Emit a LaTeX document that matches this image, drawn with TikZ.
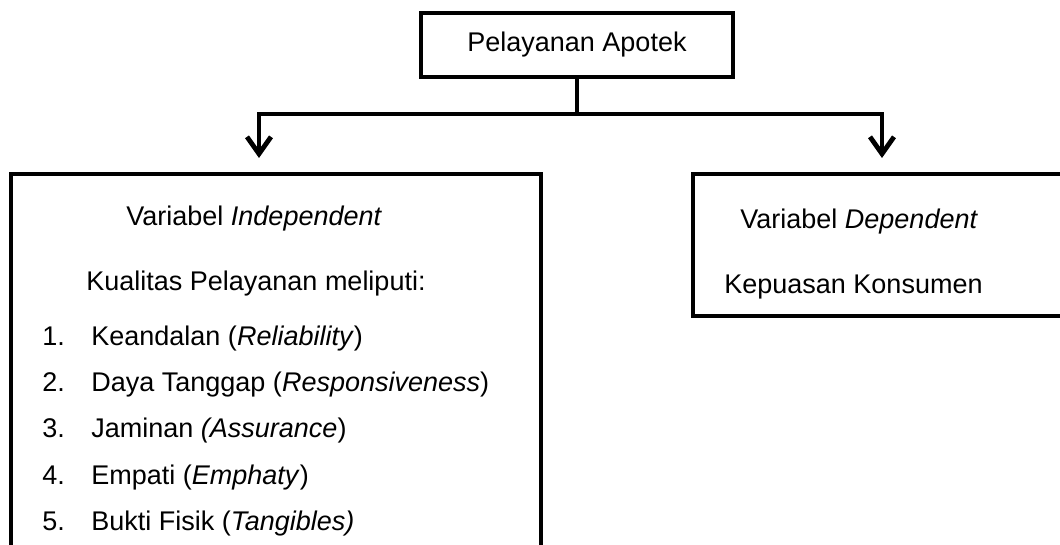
\documentclass[tikz,border=0pt]{standalone}
\usepackage{fontspec}
\setmainfont{Liberation Sans}
\usetikzlibrary{arrows.meta}
\begin{document}
\begin{tikzpicture}[x=0.5pt,y=-0.5pt,font=\fontsize{13.5}{16}\selectfont]
\tikzset{kotak/.style={draw, rectangle, line width=1.9pt, inner sep=0pt},
teks/.style={anchor=base west, inner sep=0pt},
panah/.style={line width=2pt, -{Straight Barb[length=8.5pt, width=12pt, line width=2.4pt]}}}
\useasboundingbox (0,0) rectangle (1060,545);
\clip (0,0) rectangle (1060,545);
\node[kotak, minimum width=156pt, minimum height=32pt] (P) at (577,45) {Pelayanan Apotek};
\node[kotak, minimum width=265pt, minimum height=223pt] (I) at (276,397) {};
\node[kotak, minimum width=208.5pt, minimum height=71pt] (D) at (901.5,245) {};
\coordinate (cabang) at (577,114);
\coordinate (kiri) at (259,158);
\coordinate (kanan) at (882,158);
\draw[panah] (P.south) -- (cabang) -| (kiri);
\draw[panah] (cabang) -| (kanan);
\node[teks] (vi) at (126,226) {Variabel \textit{Independent}};
\node[teks] (kp) at (86,291) {Kualitas Pelayanan meliputi:};
\node[teks] (n1) at (42,345) {1.};
\node[teks] (d1) at (91,345) {Keandalan (\textit{Reliability})};
\node[teks] (n2) at (42,391) {2.};
\node[teks] (d2) at (91,391) {Daya Tanggap (\textit{Responsiveness})};
\node[teks] (n3) at (42,437) {3.};
\node[teks] (d3) at (91,437) {Jaminan \textit{(Assurance})};
\node[teks] (n4) at (42,484) {4.};
\node[teks] (d4) at (91,484) {Empati (\textit{Emphaty})};
\node[teks] (n5) at (42,530) {5.};
\node[teks] (d5) at (91,530) {Bukti Fisik (\textit{Tangibles)}};
\node[teks] (vd) at (740,229) {Variabel \textit{Dependent}};
\node[teks] (kk) at (724,293) {Kepuasan Konsumen};
\end{tikzpicture}
\end{document}
